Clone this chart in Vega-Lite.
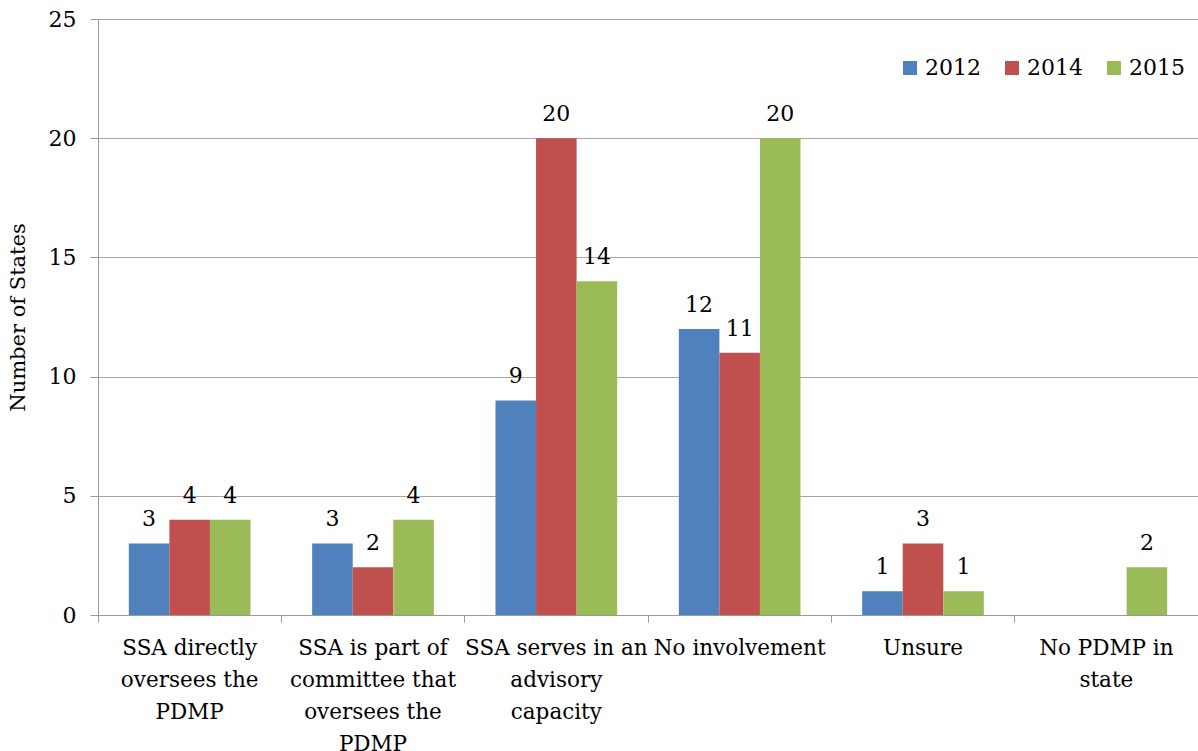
{
  "$schema": "https://vega.github.io/schema/vega-lite/v6.json",
  "width": 1100,
  "height": 596,
  "autosize": {"type": "none"},
  "padding": {"left": 98, "top": 19, "right": 0, "bottom": 136},
  "background": "white",
  "config": {
    "font": "DejaVu Serif",
    "view": {"stroke": null},
    "axis": {"labelFont": "DejaVu Serif", "titleFont": "DejaVu Serif", "labelColor": "black", "titleColor": "black"}
  },
  "data": {
    "values": [
      {"category": "SSA directly|oversees the|PDMP", "year": "2012", "value": 3},
      {"category": "SSA directly|oversees the|PDMP", "year": "2014", "value": 4},
      {"category": "SSA directly|oversees the|PDMP", "year": "2015", "value": 4},
      {"category": "SSA is part of|committee that|oversees the|PDMP", "year": "2012", "value": 3},
      {"category": "SSA is part of|committee that|oversees the|PDMP", "year": "2014", "value": 2},
      {"category": "SSA is part of|committee that|oversees the|PDMP", "year": "2015", "value": 4},
      {"category": "SSA serves in an|advisory|capacity", "year": "2012", "value": 9},
      {"category": "SSA serves in an|advisory|capacity", "year": "2014", "value": 20},
      {"category": "SSA serves in an|advisory|capacity", "year": "2015", "value": 14},
      {"category": "No involvement", "year": "2012", "value": 12},
      {"category": "No involvement", "year": "2014", "value": 11},
      {"category": "No involvement", "year": "2015", "value": 20},
      {"category": "Unsure", "year": "2012", "value": 1},
      {"category": "Unsure", "year": "2014", "value": 3},
      {"category": "Unsure", "year": "2015", "value": 1},
      {"category": "No PDMP in|state", "year": "2012", "value": 0},
      {"category": "No PDMP in|state", "year": "2014", "value": 0},
      {"category": "No PDMP in|state", "year": "2015", "value": 2}
    ]
  },
  "encoding": {
    "x": {
      "field": "category", "type": "nominal", "sort": null,
      "scale": {"paddingInner": 0, "paddingOuter": 0},
      "axis": {
        "title": null, "labelAngle": 0, "labelFontSize": 21.5, "labelLineHeight": 32,
        "labelExpr": "split(datum.label, '|')", "labelPadding": 15,
        "tickSize": 7, "bandPosition": 0, "domainColor": "#999999", "tickColor": "#999999",
        "labelLimit": 300
      }
    },
    "xOffset": {"field": "year", "type": "nominal", "scale": {"paddingInner": 0, "paddingOuter": 0.76}},
    "y": {
      "field": "value", "type": "quantitative",
      "scale": {"domain": [0, 25], "nice": false},
      "axis": {
        "title": "Number of States", "titleFontSize": 21, "titleFontWeight": "normal", "titlePadding": 20,
        "labelFontSize": 22, "labelPadding": 14, "tickSize": 8, "values": [0, 5, 10, 15, 20, 25],
        "grid": true, "gridColor": "#a6a6a6", "domainColor": "#999999", "tickColor": "#999999"
      }
    }
  },
  "layer": [
    {
      "mark": {"type": "bar"},
      "encoding": {
        "color": {
          "field": "year", "type": "nominal",
          "scale": {"domain": ["2012", "2014", "2015"], "range": ["#4F81BD", "#C0504D", "#9BBB59"]},
          "legend": {
            "title": null, "orient": "none", "direction": "horizontal",
            "legendX": 801, "legendY": 38,
            "symbolType": "square", "symbolSize": 196, "symbolStrokeWidth": 0,
            "labelFontSize": 22, "labelFont": "DejaVu Serif", "labelColor": "black",
            "labelOffset": 4, "columnPadding": 20
          }
        }
      }
    },
    {
      "transform": [{"filter": "datum.value > 0"}],
      "mark": {"type": "text", "fontSize": 22, "baseline": "alphabetic", "dy": -17, "color": "black"},
      "encoding": {"text": {"field": "value", "type": "quantitative"}}
    }
  ]
}
